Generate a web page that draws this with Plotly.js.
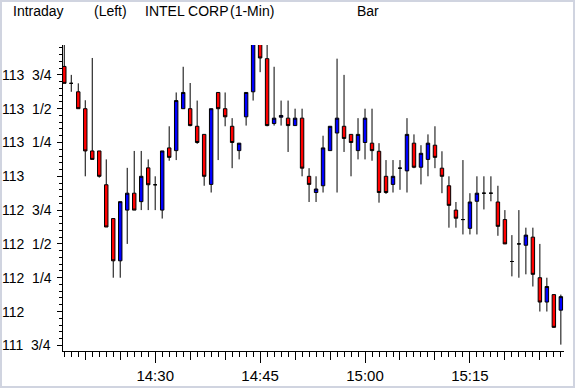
<!DOCTYPE html>
<html>
<head>
<meta charset="utf-8">
<script src="https://cdn.plot.ly/plotly-3.0.1.min.js"></script>
<style>
  html, body { margin: 0; padding: 0; background: #ffffff; }
  #chart { width: 575px; height: 388px; }
</style>
</head>
<body>
<div id="chart"></div>
<script>
// ---- data (1-minute bars, INTEL CORP) ----
var times = ["14:17","14:18","14:19","14:20","14:21","14:22","14:23","14:24","14:25","14:26",
  "14:27","14:28","14:29","14:30","14:31","14:32","14:33","14:34","14:35","14:36",
  "14:37","14:38","14:39","14:40","14:41","14:42","14:43","14:44","14:45","14:46",
  "14:47","14:48","14:49","14:50","14:51","14:52","14:53","14:54","14:55","14:56",
  "14:57","14:58","14:59","15:00","15:01","15:02","15:03","15:04","15:05","15:06",
  "15:07","15:08","15:09","15:10","15:11","15:12","15:13","15:14","15:15","15:16",
  "15:17","15:18","15:19","15:20","15:21","15:22","15:23","15:24","15:25","15:26",
  "15:27","15:28"];
var openP = [113.8125,113.6875,113.625,113.5,113.1875,113.1875,112.9375,112.6875,112.375,112.75,
  112.875,112.8125,113.0625,112.9375,112.75,113.21,113.19,113.5,113.5,113.37,
  113.31,112.94,113.62,113.5,113.37,113.19,113.44,113.625,114.0,113.87,
  113.39,113.437,113.43,113.375,113.43,113.0,112.88,112.93,113.19,113.32,
  113.37,113.31,113.19,113.25,113.245,113.185,113.0,112.94,113.06,113.04,
  113.245,113.067,113.125,113.23,113.06,112.93,112.75,112.68,112.615,112.815,
  112.875,112.875,112.81,112.68,112.37,112.5,112.49,112.55,112.25,112.07,
  112.125,112.01];
var highP = [114.0,113.75,113.6875,113.5625,113.875,113.1875,113.125,112.6875,112.8125,113.0625,
  113.1875,113.1875,113.125,113.0,113.1875,113.37,113.62,113.81,113.69,113.56,
  113.31,113.5,113.62,113.62,113.43,113.245,113.62,114.0,114.06,114.0,
  113.81,113.56,113.56,113.5,113.5,113.06,113.0,113.3,113.37,113.87,
  113.75,113.31,113.43,113.5,113.5,113.245,113.12,113.12,113.12,113.43,
  113.31,113.23,113.31,113.37,113.185,113.0,112.81,113.12,112.875,113.0,
  113.0,113.0,112.93,112.75,112.565,112.75,112.62,112.62,112.5,112.25,
  112.125,112.125];
var lowP = [113.6875,113.625,113.5,113.0,113.125,112.99,112.625,112.25,112.25,112.5,
  112.75,112.75,112.75,112.75,112.6875,113.115,113.12,113.5,113.37,113.24,
  112.93,112.88,113.12,113.37,113.06,113.125,113.375,113.56,113.77,113.37,
  113.375,113.375,113.18,113.375,113.0,112.81,112.81,112.88,113.19,112.88,
  113.18,113.0,113.125,113.125,113.115,112.805,112.87,112.88,112.9,112.88,
  113.06,112.94,113.0,113.06,112.875,112.62,112.62,112.57,112.57,112.57,
  112.755,112.815,112.56,112.5,112.26,112.25,112.275,112.185,112.0,112.0,
  111.88,111.755];
var closeP = [113.6875,113.6875,113.5,113.1875,113.125,113.0,112.625,112.375,112.8125,112.875,
  112.75,113.0,112.9375,112.9375,113.1875,113.14,113.56,113.62,113.375,113.25,
  113.0,113.5,113.5,113.44,113.25,113.245,113.62,114.0,113.875,113.375,
  113.43,113.45,113.375,113.43,113.06,112.94,112.906,113.21,113.37,113.43,
  113.28,113.25,113.31,113.43,113.19,112.88,112.88,113.0,113.06,113.31,
  113.067,113.17,113.245,113.14,113.0,112.785,112.69,112.68,112.81,112.875,
  112.875,112.875,112.63,112.5,112.37,112.5,112.565,112.275,112.07,112.185,
  111.883,112.11];

var yTickVals = [111.75,112,112.25,112.5,112.75,113,113.25,113.5,113.75];
var yTickText = ["111 3/4","112","112 1/4","112 1/2","112 3/4","113","113 1/4","113 1/2","113 3/4"];
var headerText = ["Intraday","(Left)","INTEL CORP","(1-Min)","Bar"];
var headerLeftPx = [12,93,144,229,356];

var DAY = "2024-01-02 ";
var xDates = times.map(function(t){ return DAY + t + ":00"; });
var xRange = [DAY + "14:16:49", DAY + "15:28:27"];

// ---- geometry ----
var W = 575, H = 388;
var M = {l: 63, r: 11, t: 45, b: 37};
var PW = W - M.l - M.r, PH = H - M.t - M.b;
function px2paperX(px){ return (px - M.l) / PW; }
function px2paperY(py){ return (H - M.b - py) / PH; }

var FONT = "'Liberation Sans', Arial, sans-serif";

var candle = {
  type: "candlestick",
  x: xDates, open: openP, high: highP, low: lowP, close: closeP,
  xaxis: "x", yaxis: "y",
  whiskerwidth: 0,
  increasing: {fillcolor: "#0000ff", line: {color: "#000000", width: 1}},
  decreasing: {fillcolor: "#ff0000", line: {color: "#000000", width: 1}},
  showlegend: false,
  hoverinfo: "x+y"
};
// helper trace so that the 5-minute tick axis is drawn
var tickHelper = {
  type: "scatter", mode: "lines", x: xRange, y: [null, null],
  xaxis: "x2", yaxis: "y", showlegend: false, hoverinfo: "skip"
};

var annotations = [];
headerText.forEach(function(t, i){
  annotations.push({
    text: t, xref: "paper", yref: "paper",
    x: px2paperX(headerLeftPx[i] - 1), y: px2paperY(11),
    xanchor: "left", yanchor: "middle", showarrow: false,
    font: {family: FONT, size: 14, color: "#000000"}
  });
});
yTickVals.forEach(function(v, i){
  annotations.push({
    text: yTickText[i].replace(" ", "\u00a0\u00a0"), xref: "paper", yref: "y",
    x: px2paperX(0), y: v,
    xanchor: "left", yanchor: "middle", showarrow: false,
    font: {family: FONT, size: 14, color: "#000000"}
  });
});

var layout = {
  width: W, height: H,
  margin: M,
  paper_bgcolor: "#ffffff", plot_bgcolor: "#ffffff",
  showlegend: false,
  font: {family: FONT, size: 14, color: "#000000"},
  xaxis: {
    type: "date", range: xRange,
    rangeslider: {visible: false},
    showgrid: false, zeroline: false,
    showline: true, linecolor: "#000000", linewidth: 1,
    ticks: "outside", ticklen: 11, tickcolor: "#000000", tickwidth: 1,
    tick0: DAY + "14:00:00", dtick: 900000,
    tickformat: "%H:%M",
    tickfont: {family: FONT, size: 15, color: "#000000"},
    minor: {ticks: "outside", ticklen: 5, tickcolor: "#000000", tickwidth: 1,
            dtick: 60000, tick0: DAY + "14:00:00", showgrid: false},
    fixedrange: true
  },
  xaxis2: {
    type: "date", range: xRange, overlaying: "x", anchor: "y", side: "bottom",
    showgrid: false, zeroline: false, showline: false,
    ticks: "outside", ticklen: 8, tickcolor: "#000000", tickwidth: 1,
    tick0: DAY + "14:00:00", dtick: 300000, showticklabels: false,
    rangeslider: {visible: false}
  },
  yaxis: {
    range: [111.708, 113.971],
    showgrid: false, zeroline: false,
    showline: true, linecolor: "#000000", linewidth: 1,
    ticks: "outside", ticklen: 5, tickcolor: "#000000", tickwidth: 1,
    tick0: 111.75, dtick: 0.25, showticklabels: false,
    minor: {ticks: "outside", ticklen: 3, tickcolor: "#000000", tickwidth: 1,
            dtick: 0.05, tick0: 111.75, showgrid: false},
    fixedrange: true
  },
  annotations: annotations,
  shapes: [{
    type: "rect", xref: "paper", yref: "paper",
    x0: px2paperX(1), x1: px2paperX(574), y0: px2paperY(387), y1: px2paperY(1),
    line: {color: "#d0d4e0", width: 2}, fillcolor: "rgba(0,0,0,0)", layer: "below"
  }]
};

Plotly.newPlot("chart", [candle, tickHelper], layout, {staticPlot: true, displayModeBar: false});
</script>
</body>
</html>
